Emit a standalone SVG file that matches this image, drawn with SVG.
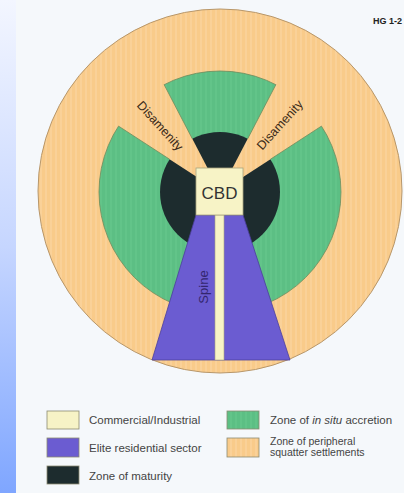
<svg xmlns="http://www.w3.org/2000/svg" width="404" height="493" viewBox="0 0 404 493">
<defs>
<linearGradient id="strip" x1="0" y1="0" x2="0" y2="1">
<stop offset="0" stop-color="#f3f6ff"/>
<stop offset="0.5" stop-color="#c6d6ff"/>
<stop offset="1" stop-color="#7fa6ff"/>
</linearGradient>
<pattern id="orangeStripe" patternUnits="userSpaceOnUse" width="5" height="10">
<rect width="5" height="10" fill="#f9cb8a"/>
<rect width="2" height="10" fill="#fad198"/>
</pattern>
<pattern id="greenStripe" patternUnits="userSpaceOnUse" width="5" height="10">
<rect width="5" height="10" fill="#5cbf84"/>
<rect width="2" height="10" fill="#62c489"/>
</pattern>
</defs>
<style>
.lbl{font-family:"Liberation Sans",Arial,sans-serif;fill:#444;font-size:11.5px}
.lbl2{font-family:"Liberation Sans",Arial,sans-serif;fill:#444;font-size:10.5px}
.dis{font-family:"Liberation Sans",Arial,sans-serif;fill:#3a2a18;font-size:12.5px}
.sw{stroke:#8c8a72;stroke-width:0.8}
.edge{stroke:#6f8a5c;stroke-width:0.8;fill:none}
</style>
<rect x="0" y="0" width="404" height="493" fill="#f5f8fb"/>
<rect x="0" y="0" width="16" height="493" fill="url(#strip)"/>
<text x="402" y="24" text-anchor="end" font-family="Liberation Sans, Arial, sans-serif" font-weight="bold" font-size="9" fill="#222">HG 1-2</text>

<g id="periphery">
<circle cx="220" cy="191" r="182" fill="url(#orangeStripe)" stroke="#b8976a" stroke-width="1"/>
</g>
<g id="accretion">
<circle cx="220" cy="192" r="121" fill="url(#greenStripe)" stroke="#6f8a5c" stroke-width="0.8"/>
</g>
<g id="maturity">
<circle cx="220" cy="192" r="60" fill="#1d2c2e"/>
</g>
<g id="disamenity-left">
<path d="M220,192 L116.0,124.47 A124,124 0 0,1 162.75,82.01 Z" fill="url(#orangeStripe)"/>
<line class="edge" x1="169.68" y1="159.32" x2="118.52" y2="126.10"/>
<line class="edge" x1="192.30" y1="138.78" x2="164.13" y2="84.67"/>
<text class="dis" x="0" y="4" text-anchor="middle" transform="translate(160,126) rotate(48)">Disamenity</text>
</g>
<g id="disamenity-right">
<path d="M220,192 L277.25,82.01 A124,124 0 0,1 324.0,124.47 Z" fill="url(#orangeStripe)"/>
<line class="edge" x1="247.70" y1="138.78" x2="275.87" y2="84.67"/>
<line class="edge" x1="270.32" y1="159.32" x2="321.48" y2="126.10"/>
<text class="dis" x="0" y="4" text-anchor="middle" transform="translate(280,125) rotate(-48)">Disamenity</text>
</g>
<g id="elite">
<polygon points="196,215 243,215 290,360 152,360" fill="#6b5cd1" stroke="#4b3f9c" stroke-width="0.8"/>
<text x="0" y="4" text-anchor="middle" transform="translate(204,287) rotate(-90)" font-family="Liberation Sans, Arial, sans-serif" font-size="13" fill="#33266e">Spine</text>
</g>
<g id="spine">
<rect x="215" y="215" width="9" height="145" fill="#f7f3c6" stroke="#a8a47e" stroke-width="0.6"/>
</g>
<g id="cbd">
<rect x="196" y="168" width="47" height="47" fill="#f7f3c6" stroke="#a8a47e" stroke-width="0.8"/>
<text x="219.5" y="198.5" text-anchor="middle" font-family="Liberation Sans, Arial, sans-serif" font-size="17" fill="#333">CBD</text>
</g>

<g id="legend">
<rect class="sw" x="47" y="411" width="32" height="18" fill="#f7f3c6"/>
<text class="lbl" x="89" y="424">Commercial/Industrial</text>
<rect class="sw" x="47" y="438" width="32" height="19" fill="#6b5cd1"/>
<text class="lbl" x="89" y="452">Elite residential sector</text>
<rect class="sw" x="47" y="466" width="32" height="18" fill="#1d2c2e"/>
<text class="lbl" x="89" y="480">Zone of maturity</text>
<rect class="sw" x="227" y="411" width="32" height="18" fill="url(#greenStripe)"/>
<text class="lbl" x="270" y="424">Zone of <tspan font-style="italic">in situ</tspan> accretion</text>
<rect class="sw" x="227" y="438" width="32" height="19" fill="url(#orangeStripe)"/>
<text class="lbl2" x="270" y="445">Zone of peripheral</text>
<text class="lbl2" x="270" y="456">squatter settlements</text>
</g>
</svg>
